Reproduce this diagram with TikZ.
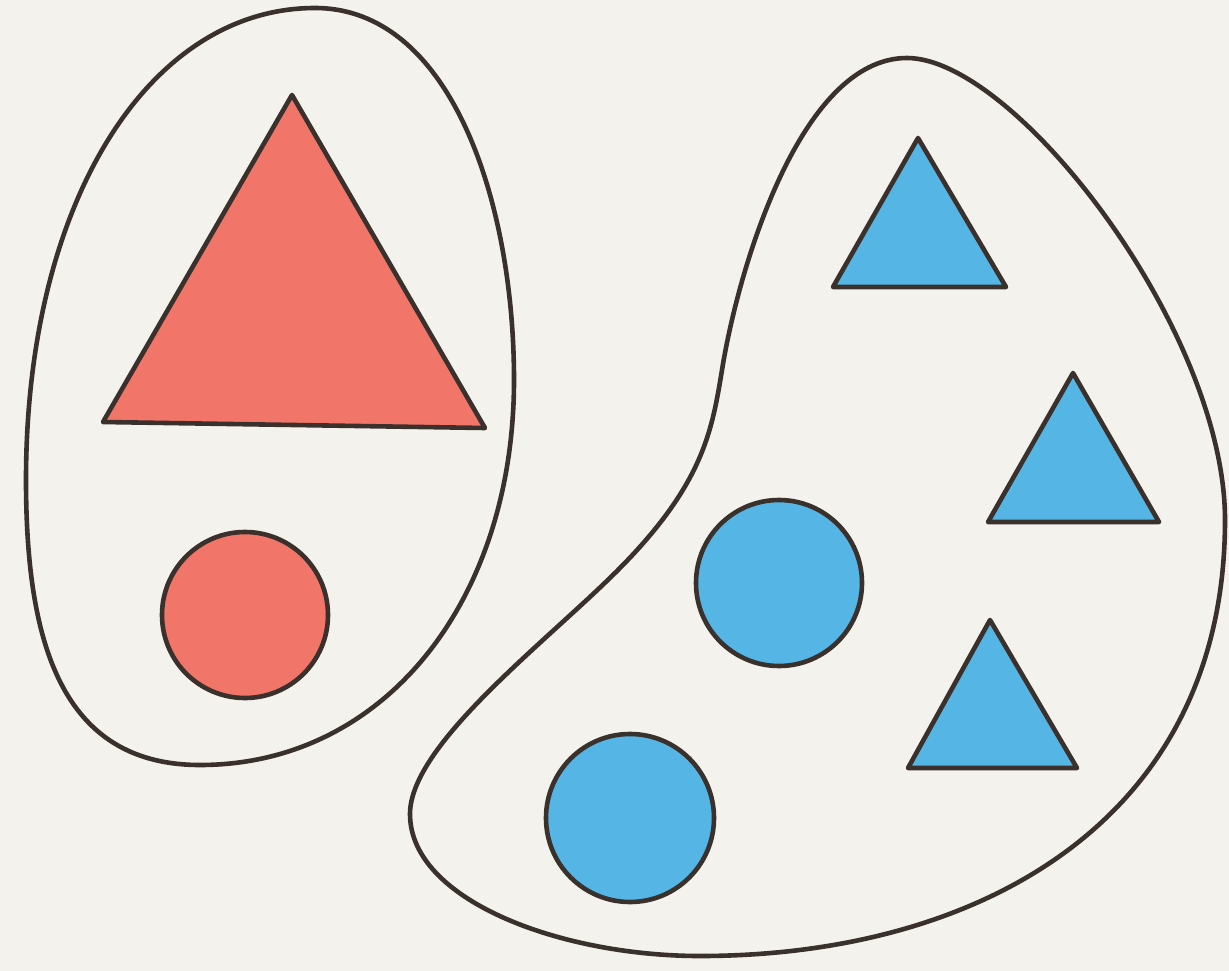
\documentclass[tikz,border=0pt]{standalone}
\begin{document}
\begin{tikzpicture}[x=1pt,y=-1pt,
  outline/.style={draw=edgec, line width=4.6pt, line join=round},
  redf/.style={outline, fill=redc},
  bluef/.style={outline, fill=bluec}]
\definecolor{bgc}{HTML}{F4F2EC}
\definecolor{edgec}{HTML}{3A302C}
\definecolor{redc}{HTML}{F2756A}
\definecolor{bluec}{HTML}{55B5E5}
\fill[bgc] (0,0) rectangle (1229,971);
\useasboundingbox (0,0) rectangle (1229,971);
% left blob
\coordinate (L0) at (315,8);
\coordinate (L1) at (514,380);
\coordinate (L2) at (200,765);
\coordinate (L3) at (26,480);
\draw[outline] (L0) .. controls (450,8) and (514,200) .. (L1)
  .. controls (514,600) and (385,765) .. (L2)
  .. controls (60,765) and (26,640) .. (L3)
  .. controls (26,200) and (150,8) .. (L0) -- cycle;
% right blob
\coordinate (R0) at (907,58);
\coordinate (R1) at (1225,520);
\coordinate (R2) at (700,956);
\coordinate (R3) at (410,814);
\coordinate (R4) at (617,571);
\coordinate (R5) at (722,370);
\draw[outline] (R0) .. controls (1015,58) and (1225,330) .. (R1)
  .. controls (1225,820) and (980,956) .. (R2)
  .. controls (560,956) and (410,900) .. (R3)
  .. controls (410,745) and (545,643) .. (R4)
  .. controls (704,484) and (712,430) .. (R5)
  .. controls (738,270) and (800,58) .. (R0) -- cycle;
% red shapes
\draw[redf] (292,95) -- (485,428) -- (103,422) -- cycle;
\draw[redf] (245,615) circle (83);
% blue shapes
\draw[bluef] (918,138) -- (1006,287) -- (833,287) -- cycle;
\draw[bluef] (1073,373) -- (1159,522) -- (988,522) -- cycle;
\draw[bluef] (990,620) -- (1077,768) -- (908,768) -- cycle;
\draw[bluef] (779,583) circle (83);
\draw[bluef] (630,818) circle (84);
\end{tikzpicture}
\end{document}
